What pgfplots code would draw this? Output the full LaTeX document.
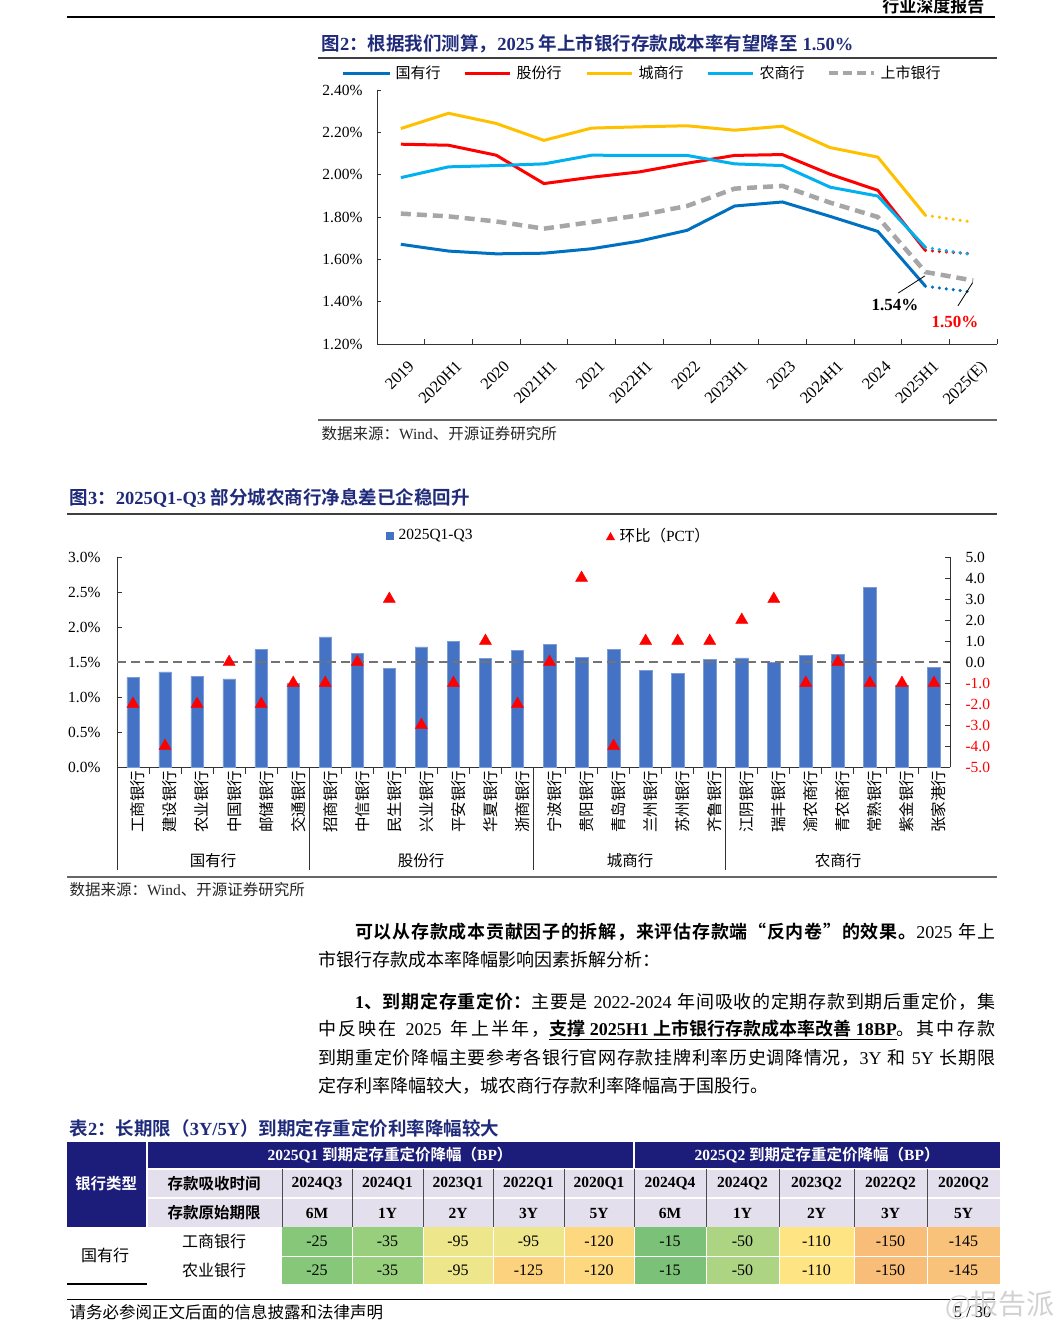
\documentclass[border=0pt]{standalone}
\usepackage{fontspec}
\usepackage{pgfplots}
\pgfplotsset{compat=1.18}
\setmainfont{Liberation Serif}
\newfontfamily\cjkfont[BoldFont={Noto Sans CJK SC Bold}]{Noto Sans CJK SC}
\newcommand\latinfont{\fontfamily{\rmdefault}\selectfont}
\XeTeXinterchartokenstate=1
\newXeTeXintercharclass\CJKclass
\newcount\cjkc
\cjkc="2E80
\loop\XeTeXcharclass\cjkc=\CJKclass\ifnum\cjkc<"9FFF\advance\cjkc by 1\repeat
\cjkc="FF00
\loop\XeTeXcharclass\cjkc=\CJKclass\ifnum\cjkc<"FFEF\advance\cjkc by 1\repeat
\XeTeXcharclass"201C=\CJKclass
\XeTeXcharclass"201D=\CJKclass
\XeTeXinterchartoks 0 \CJKclass = {\cjkfont}
\XeTeXinterchartoks 4095 \CJKclass = {\cjkfont}
\XeTeXinterchartoks \CJKclass 0 = {\latinfont}
\XeTeXinterchartoks \CJKclass 4095 = {\latinfont}
\XeTeXinterchartoks \CJKclass \CJKclass = {\hskip0pt plus 1pt}
\newcommand\fs[1]{\fontsize{#1}{#1}\selectfont}
\definecolor{navy}{HTML}{1F2A7A}
\definecolor{tnavy}{HTML}{1C1C7A}
\definecolor{c1}{HTML}{0070C0}
\definecolor{c2}{HTML}{FF0000}
\definecolor{c3}{HTML}{FFC000}
\definecolor{c4}{HTML}{00B0F0}
\definecolor{c5}{HTML}{A6A6A6}
\definecolor{barblue}{HTML}{4472C4}
\definecolor{lav}{HTML}{E4DFEC}
\definecolor{g0}{RGB}{123,194,120}
\definecolor{g1}{RGB}{134,199,122}
\definecolor{g2}{RGB}{152,207,124}
\definecolor{g3}{RGB}{173,212,130}
\definecolor{y1}{RGB}{238,230,138}
\definecolor{y2}{RGB}{254,228,131}
\definecolor{o1}{RGB}{253,216,127}
\definecolor{o2}{RGB}{249,194,122}
\definecolor{o3}{RGB}{248,189,120}
\definecolor{o4}{RGB}{252,210,126}
\begin{document}
\begin{tikzpicture}[x=1pt,y=1pt]
\path[use as bounding box] (0,0) rectangle (1061,-1320);
% header
\node[anchor=east,font={\bfseries\fs{17}}] at (988,-6) {行业深度报告};
\draw[line width=1.5] (67,-17) -- (995,-17);
% ===== Figure 2 =====
\node[anchor=west,text=navy,font={\bfseries\fs{18.5}}] at (318,-44) {图2：根据我们测算，2025 年上市银行存款成本率有望降至 1.50\%};
\draw[line width=1.5,black!75] (318,-58) -- (997,-58);
\draw[line width=3,c1] (343,-73) -- (390,-73); \node[anchor=west,font={\fs{15}}] at (392,-73) {国有行};
\draw[line width=3,c2] (465,-73) -- (510,-73); \node[anchor=west,font={\fs{15}}] at (513,-73) {股份行};
\draw[line width=3,c3] (587,-73) -- (632,-73); \node[anchor=west,font={\fs{15}}] at (635,-73) {城商行};
\draw[line width=3,c4] (708,-73) -- (753,-73); \node[anchor=west,font={\fs{15}}] at (756,-73) {农商行};
\draw[line width=3.5,c5,dash pattern=on 9pt off 5pt] (829,-73) -- (874,-73); \node[anchor=west,font={\fs{15}}] at (877,-73) {上市银行};
\begin{axis}[at={(377pt,-344pt)},anchor=south west,scale only axis,width=620pt,height=254pt,
  xmin=-0.5,xmax=12.5,ymin=1.2,ymax=2.4,clip=false,
  axis x line*=bottom,axis y line*=left,axis line style={-,black!80,line width=0.8pt},
  xtick={0,...,12},xticklabels={2019,2020H1,2020,2021H1,2021,2022H1,2022,2023H1,2023,2024H1,2024,2025H1,2025(E)},
  major x tick style={draw=none},minor xtick={-0.5,0.5,...,12.5},minor tick length=5pt,
  x tick label style={rotate=45,anchor=north east,font={\fs{16.5}},xshift=-3pt,yshift=-12pt},
  ytick={1.2,1.4,1.6,1.8,2.0,2.2,2.4},yticklabels={1.20\%,1.40\%,1.60\%,1.80\%,2.00\%,2.20\%,2.40\%},
  y tick label style={font={\fs{15.5}},xshift=-11pt},major tick length=4pt,tick style={black!80,line width=0.8pt}]
\addplot[c1,line width=3pt] coordinates {(0,1.671)(1,1.639)(2,1.626)(3,1.629)(4,1.650)(5,1.686)(6,1.737)(7,1.852)(8,1.871)(9,1.803)(10,1.732)(11,1.473)};
\addplot[c2,line width=3pt] coordinates {(0,2.144)(1,2.139)(2,2.092)(3,1.958)(4,1.988)(5,2.013)(6,2.054)(7,2.091)(8,2.095)(9,2.002)(10,1.926)(11,1.642)};
\addplot[c3,line width=3pt] coordinates {(0,2.218)(1,2.290)(2,2.242)(3,2.162)(4,2.220)(5,2.226)(6,2.231)(7,2.210)(8,2.229)(9,2.128)(10,2.083)(11,1.808)};
\addplot[c4,line width=3pt] coordinates {(0,1.986)(1,2.037)(2,2.043)(3,2.051)(4,2.092)(5,2.091)(6,2.091)(7,2.051)(8,2.043)(9,1.941)(10,1.899)(11,1.656)};
\addplot[c5,line width=4.5pt,dash pattern=on 10pt off 6pt] coordinates {(0,1.816)(1,1.803)(2,1.779)(3,1.745)(4,1.776)(5,1.808)(6,1.852)(7,1.934)(8,1.947)(9,1.868)(10,1.800)(11,1.540)(12,1.500)};
\addplot[c1,line width=3.5pt,line cap=round,dash pattern=on 0pt off 7pt] coordinates {(11,1.473)(12,1.445)};
\addplot[c2,line width=3.5pt,line cap=round,dash pattern=on 0pt off 7pt] coordinates {(11,1.642)(12,1.626)};
\addplot[c3,line width=3.5pt,line cap=round,dash pattern=on 0pt off 7pt] coordinates {(11,1.808)(12,1.776)};
\addplot[c4,line width=3.5pt,line cap=round,dash pattern=on 0pt off 7pt] coordinates {(11,1.656)(12,1.622)};
\draw[black,line width=0.8pt] (axis cs:10.43,1.441) -- (axis cs:10.99,1.522);
\draw[black,line width=0.8pt] (axis cs:11.68,1.38) -- (axis cs:11.99,1.49);
\node[font={\bfseries\fs{17}}] at (axis cs:10.36,1.384) {1.54\%};
\node[font={\bfseries\fs{17}},text=red] at (axis cs:11.62,1.304) {1.50\%};
\end{axis}
\draw[line width=1.2,black!60] (318,-420) -- (997,-420);
\node[anchor=west,font={\fs{15.5}},text=black!85] at (318,-434) {数据来源：Wind、开源证券研究所};
% ===== Figure 3 =====
\node[anchor=west,text=navy,font={\bfseries\fs{18.5}}] at (66,-498) {图3：2025Q1-Q3 部分城农商行净息差已企稳回升};
\draw[line width=1.5,black!75] (67,-514) -- (997,-514);
\fill[barblue] (386,-532) rectangle (394,-540);
\node[anchor=west,font={\fs{15.5}}] at (395,-536) {2025Q1-Q3};
\fill[red] (606,-540) -- (615,-540) -- (610.5,-532) -- cycle;
\node[anchor=west,font={\fs{15.5}}] at (616,-536) {环比（PCT）};
\begin{axis}[at={(117pt,-767pt)},anchor=south west,scale only axis,width=833pt,height=210pt,
  xmin=-0.5,xmax=25.5,ymin=0,ymax=3,clip=false,
  axis x line*=bottom,axis y line*=left,axis line style={-,black!80,line width=0.8pt},
  xtick={0,...,25},major x tick style={draw=none},
  xticklabels={工商银行,建设银行,农业银行,中国银行,邮储银行,交通银行,招商银行,中信银行,民生银行,兴业银行,平安银行,华夏银行,浙商银行,宁波银行,贵阳银行,青岛银行,兰州银行,苏州银行,齐鲁银行,江阴银行,瑞丰银行,渝农商行,青农商行,常熟银行,紫金银行,张家港行},
  x tick label style={rotate=90,anchor=east,font={\fs{15.5}},yshift=-5pt},
  ytick={0,0.5,1,1.5,2,2.5,3},yticklabels={0.0\%,0.5\%,1.0\%,1.5\%,2.0\%,2.5\%,3.0\%},
  y tick label style={font={\fs{15.5}},xshift=-13pt},major tick length=5pt,tick style={black!80,line width=0.8pt}]
\addplot[ybar,bar width=12.5pt,fill=barblue,draw=barblue!70!white,line width=0.5pt] coordinates {(0,1.28)(1,1.36)(2,1.30)(3,1.26)(4,1.68)(5,1.19)(6,1.86)(7,1.62)(8,1.41)(9,1.715)(10,1.79)(11,1.55)(12,1.67)(13,1.75)(14,1.57)(15,1.68)(16,1.38)(17,1.34)(18,1.54)(19,1.56)(20,1.49)(21,1.59)(22,1.61)(23,2.57)(24,1.17)(25,1.42)};
\draw[line width=2.5pt,black!55,dash pattern=on 9pt off 5pt] (axis cs:-0.5,1.5) -- (axis cs:25.5,1.5);
\end{axis}
\begin{axis}[at={(117pt,-767pt)},anchor=south west,scale only axis,width=833pt,height=210pt,
  xmin=-0.5,xmax=25.5,ymin=-5,ymax=5,clip=false,
  axis x line=none,axis y line*=right,axis line style={-,black!80,line width=0.8pt},
  ytick={-5,-4,-3,-2,-1,0,1,2,3,4,5},
  yticklabels={{\color{red}-5.0},{\color{red}-4.0},{\color{red}-3.0},{\color{red}-2.0},{\color{red}-1.0},0.0,1.0,2.0,3.0,4.0,5.0},
  y tick label style={font={\fs{15.5}},xshift=12pt},major tick length=5pt,tick style={black!80,line width=0.8pt}]
\addplot[only marks,mark=triangle*,mark size=7pt,red] coordinates {(0,-2)(1,-4)(2,-2)(3,0)(4,-2)(5,-1)(6,-1)(7,0)(8,3)(9,-3)(10,-1)(11,1)(12,-2)(13,0)(14,4)(15,-4)(16,1)(17,1)(18,1)(19,2)(20,3)(21,-1)(22,0)(23,-1)(24,-1)(25,-1)};
\end{axis}
\foreach \k in {1,...,25} \draw[black!80,line width=0.8] (117+\k*32.0385,-767) -- ++(0,-7);
\foreach \k in {0,6,13,19} \draw[black!80,line width=0.8] (117+\k*32.0385,-767) -- ++(0,-103);
\node[font={\fs{15.5}}] at (213,-861) {国有行};
\node[font={\fs{15.5}}] at (421,-861) {股份行};
\node[font={\fs{15.5}}] at (630,-861) {城商行};
\node[font={\fs{15.5}}] at (838,-861) {农商行};
\draw[line width=1.2,black!60] (67,-877) -- (997,-877);
\node[anchor=west,font={\fs{15.5}},text=black!85] at (66,-890) {数据来源：Wind、开源证券研究所};
% ===== Text =====
\begin{scope}[every node/.style={anchor=west,inner sep=0pt,font={\fs{18}}}]
\node at (355,-932) {\makebox[640pt][s]{{\bfseries 可以从存款成本贡献因子的拆解，来评估存款端“反内卷”的效果。}2025 年上}};
\node at (318,-960) {市银行存款成本率降幅影响因素拆解分析：};
\node at (355,-1002) {\makebox[640pt][s]{{\bfseries 1、到期定存重定价：}主要是 2022-2024 年间吸收的定期存款到期后重定价，集}};
\node at (318,-1030) {\makebox[677pt][s]{中反映在 2025 年上半年，\underline{\bfseries 支撑 2025H1 上市银行存款成本率改善 18BP}。其中存款}};
\node at (318,-1058) {\makebox[677pt][s]{到期重定价降幅主要参考各银行官网存款挂牌利率历史调降情况，3Y 和 5Y 长期限}};
\node at (318,-1086) {定存利率降幅较大，城农商行存款利率降幅高于国股行。};
\end{scope}
% ===== Table =====
\node[anchor=west,text=navy,font={\bfseries\fs{18.5}}] at (66,-1128) {表2：长期限（3Y/5Y）到期定存重定价利率降幅较大};
\fill[tnavy] (67,-1142) rectangle (1000,-1169);
\fill[tnavy] (67,-1142) rectangle (147,-1227);
\fill[lav] (147,-1169) rectangle (1000,-1227);
\fill[g1] (282,-1227) rectangle (352,-1284);
\fill[g2] (352,-1227) rectangle (423,-1284);
\fill[y1] (423,-1227) rectangle (493,-1284);
\fill[y1] (493,-1227) rectangle (564,-1256);
\fill[o4] (493,-1256) rectangle (564,-1284);
\fill[o1] (564,-1227) rectangle (634,-1284);
\fill[g0] (634,-1227) rectangle (706,-1284);
\fill[g3] (706,-1227) rectangle (779,-1284);
\fill[y2] (779,-1227) rectangle (854,-1284);
\fill[o3] (854,-1227) rectangle (927,-1284);
\fill[o2] (927,-1227) rectangle (1000,-1284);
\draw[white,line width=1.5] (147,-1142) -- (147,-1227);
\draw[white,line width=1.5] (634,-1142) -- (634,-1169);
\draw[white,line width=1.5] (147,-1169) -- (1000,-1169);
\draw[white,line width=1.5] (147,-1198) -- (1000,-1198);
\foreach \x in {282,352,423,493,564,634,706,779,854,927} \draw[black!70,line width=0.6] (\x,-1169) -- (\x,-1227);
\foreach \x in {352,423,493,564,634,706,779,854,927} \draw[white,line width=1] (\x,-1227) -- (\x,-1284);
\draw[white,line width=1] (282,-1256) -- (1000,-1256);
\draw[black,line width=1.2] (67,-1284) -- (147,-1284);
\begin{scope}[every node/.style={font={\bfseries\fs{15.5}},text=white}]
\node at (390,-1155) {2025Q1 到期定存重定价降幅（BP）};
\node at (817,-1155) {2025Q2 到期定存重定价降幅（BP）};
\node at (106,-1184) {银行类型};
\end{scope}
\begin{scope}[every node/.style={font={\bfseries\fs{15.5}}}]
\node at (214,-1184) {存款吸收时间};
\node at (214,-1213) {存款原始期限};
\node at (317,-1184) {2024Q3}; \node at (387.5,-1184) {2024Q1}; \node at (458,-1184) {2023Q1}; \node at (528.5,-1184) {2022Q1}; \node at (599,-1184) {2020Q1};
\node at (670,-1184) {2024Q4}; \node at (742.5,-1184) {2024Q2}; \node at (816.5,-1184) {2023Q2}; \node at (890.5,-1184) {2022Q2}; \node at (963.5,-1184) {2020Q2};
\node at (317,-1213) {6M}; \node at (387.5,-1213) {1Y}; \node at (458,-1213) {2Y}; \node at (528.5,-1213) {3Y}; \node at (599,-1213) {5Y};
\node at (670,-1213) {6M}; \node at (742.5,-1213) {1Y}; \node at (816.5,-1213) {2Y}; \node at (890.5,-1213) {3Y}; \node at (963.5,-1213) {5Y};
\end{scope}
\begin{scope}[every node/.style={font={\fs{16}}}]
\node at (105,-1255) {国有行};
\node at (214,-1241) {工商银行};
\node at (214,-1270) {农业银行};
\node at (317,-1241) {-25}; \node at (387.5,-1241) {-35}; \node at (458,-1241) {-95}; \node at (528.5,-1241) {-95}; \node at (599,-1241) {-120};
\node at (670,-1241) {-15}; \node at (742.5,-1241) {-50}; \node at (816.5,-1241) {-110}; \node at (890.5,-1241) {-150}; \node at (963.5,-1241) {-145};
\node at (317,-1270) {-25}; \node at (387.5,-1270) {-35}; \node at (458,-1270) {-95}; \node at (528.5,-1270) {-125}; \node at (599,-1270) {-120};
\node at (670,-1270) {-15}; \node at (742.5,-1270) {-50}; \node at (816.5,-1270) {-110}; \node at (890.5,-1270) {-150}; \node at (963.5,-1270) {-145};
\end{scope}
% footer
\draw[black,line width=1] (67,-1299) -- (995,-1299);
\node[anchor=west,font={\fs{16.5}}] at (66,-1312) {请务必参阅正文后面的信息披露和法律声明};
\node[anchor=east,font={\fs{16.5}}] at (995,-1312) {5 / 30};
\node[font={\fs{28}},text=black!18] at (1000,-1305) {@报告派};
\end{tikzpicture}
\end{document}
